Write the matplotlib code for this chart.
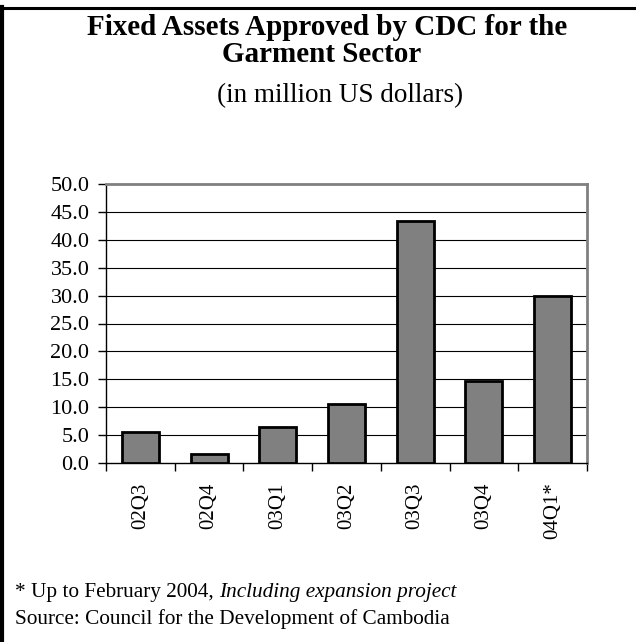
#! /usr/bin/env python3
"""
Fixed assets approved by CDC for the garment sector, bar chart.
"""

import numpy as np
import matplotlib
matplotlib.use('Agg')
import matplotlib.pyplot as plt
from matplotlib.lines import Line2D

quarters = ['02Q3', '02Q4', '03Q1', '03Q2', '03Q3', '03Q4', '04Q1*']
assets = [5.5, 1.7, 6.5, 10.6, 43.4, 14.7, 30.0]
yticks = [0, 5, 10, 15, 20, 25, 30, 35, 40, 45, 50]

plt.rcParams['font.family'] = ['Liberation Serif', 'DejaVu Serif']

W, H = 636, 642


def main():
    fig = plt.figure(figsize=(W/100, H/100), dpi=100)
    ax = fig.add_axes([106/W, 1-463/H, (587-106)/W, (463-184)/H])

    x = np.arange(len(quarters))
    ax.bar(x, assets, width=0.54, color='#808080', edgecolor='black',
           linewidth=2, zorder=3)

    ax.set_xlim(-0.5, len(quarters)-0.5)
    ax.set_ylim(0, 50)
    ax.set_yticks(yticks)
    ax.set_yticklabels(['{:.1f}'.format(v) for v in yticks], fontsize=16)
    for v in yticks[1:-1]:
        ax.axhline(v, color='black', lw=0.8, zorder=1)

    ax.set_xticks(x)
    ax.set_xticklabels(quarters, rotation=90, fontsize=15)
    ax.set_xticks(np.arange(-0.5, len(quarters)), minor=True)
    ax.tick_params(axis='x', which='major', length=0, pad=14)
    ax.tick_params(axis='x', which='minor', length=6, width=1, direction='out')
    ax.tick_params(axis='y', length=6, width=1, pad=6, direction='out')

    ax.spines['top'].set_color('#808080')
    ax.spines['right'].set_color('#808080')
    ax.spines['top'].set_linewidth(2)
    ax.spines['right'].set_linewidth(2)
    ax.spines['left'].set_linewidth(1)
    ax.spines['bottom'].set_linewidth(1)

    # titles
    fig.text(327/W, 1-35/H, 'Fixed Assets Approved by CDC for the',
             ha='center', va='baseline', fontsize=21, fontweight='bold')
    fig.text(322/W, 1-62/H, 'Garment Sector',
             ha='center', va='baseline', fontsize=21, fontweight='bold')
    fig.text(340/W, 1-102/H, '(in million US dollars)',
             ha='center', va='baseline', fontsize=19.5)

    # footnote, normal then italic part
    t1 = fig.text(15/W, 1-597/H, '* Up to February 2004, ',
                  ha='left', va='baseline', fontsize=15.3)
    fig.canvas.draw()
    bb = t1.get_window_extent()
    fig.text(bb.x1/W, 1-597/H, 'Including expansion project',
             ha='left', va='baseline', fontsize=15.3, style='italic')
    fig.text(15/W, 1-624/H, 'Source: Council for the Development of Cambodia',
             ha='left', va='baseline', fontsize=15.3)

    # frame lines at top and left of the page
    fig.add_artist(Line2D([0, 1], [1-7.5/H, 1-7.5/H], color='black', lw=2.2,
                          transform=fig.transFigure))
    fig.add_artist(Line2D([1.5/W, 1.5/W], [0, 1-7/H], color='black', lw=3,
                          transform=fig.transFigure))

    fig.savefig('out.png', dpi=100)
    return None


if __name__ == '__main__':
    main()
